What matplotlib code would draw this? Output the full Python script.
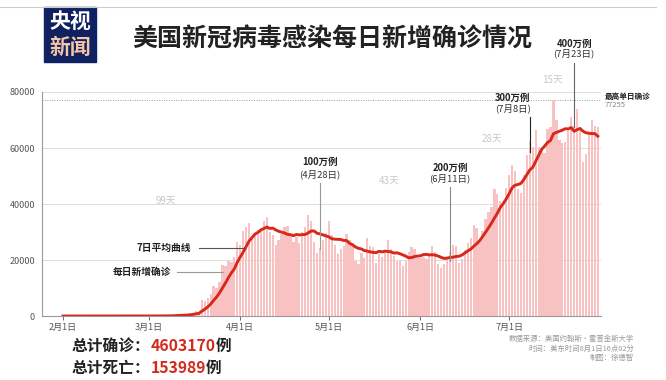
import numpy as np
import pandas as pd
import matplotlib.pyplot as plt
from matplotlib.patches import Rectangle

plt.rcParams['font.family'] = ['Noto Sans CJK SC', 'DejaVu Sans']

# daily new confirmed cases, Feb 1 .. Jul 31 2020
feb = [1, 0, 3, 0, 1, 0, 0, 0, 0, 1, 1, 0, 1, 0, 0, 0, 0, 0, 0, 0, 2, 0, 0, 0, 0, 1, 0, 2, 8]
mar = [8, 23, 20, 31, 68, 45, 140, 116, 65, 376, 322, 382, 516, 548, 772, 1133, 1789, 1362,
       5894, 5423, 6389, 7787, 10571, 9893, 12042, 18058, 17821, 19821, 19408, 20922, 26341]
apr = [25200, 30390, 31824, 33267, 28219, 29595, 30564, 31291, 33901, 35527, 29861, 28917,
       25306, 27051, 29164, 31667, 32165, 29057, 26512, 28123, 25985, 29973, 31900, 36200,
       33900, 26500, 22400, 24400, 27300, 29500]
may = [34000, 29000, 25500, 22000, 24000, 24900, 29200, 27000, 25600, 19800, 18700, 22500,
       20800, 27800, 25000, 24500, 19000, 22200, 21000, 22700, 27000, 24000, 21500, 19600,
       20000, 18000, 19600, 22800, 24600, 24000, 20800]
jun = [20700, 21000, 20200, 21500, 25000, 23000, 18500, 17300, 18500, 21000, 23000, 25500,
       25000, 19000, 20300, 23700, 26000, 27700, 32400, 31500, 26500, 30500, 34500, 37300,
       39000, 45300, 43500, 41000, 40500, 45800]
jul = [50500, 53900, 51800, 45200, 44000, 50300, 57500, 62500, 60500, 66600, 60200, 59000,
       58300, 66700, 67500, 77255, 70000, 63000, 61800, 62000, 66000, 71000, 68000, 74000,
       66000, 55000, 58000, 65000, 70000, 68000, 67500]
daily = np.array(feb + mar + apr + may + jun + jul, dtype=float)
avg7 = pd.Series(daily).rolling(7, min_periods=1).mean()

tick_days = [0, 29, 60, 90, 121, 151]
tick_labels = ['2月1日', '3月1日', '4月1日', '5月1日', '6月1日', '7月1日']

# milestones: day index, label
milestones = [(87, '100万例', '(4月28日)'), (131, '200万例', '(6月11日)'),
              (158, '300万例', '(7月8日)'), (173, '400万例', '(7月23日)')]
gaps = ['99天', '43天', '28天', '15天']
max_daily = 77255
total_cases = '4603170'
total_deaths = '153989'

fig = plt.figure(figsize=(6.66, 3.8), dpi=100)
ax = fig.add_axes([0.063, 0.1684, 0.839, 0.5895])

x = np.arange(len(daily))
ax.bar(x, daily, width=0.78, color='#f8c2c2', zorder=2)
ax.plot(x, avg7, color='#d7291b', linewidth=2.1, zorder=3)

ax.set_xlim(-7.1, 182)
ax.set_ylim(0, 80000)
ax.set_yticks([0, 20000, 40000, 60000, 80000])
ax.set_xticks(tick_days)
ax.set_xticklabels(tick_labels)
ax.tick_params(axis='x', labelsize=6.5, colors='#555555', length=3, width=0.6, pad=2)
ax.tick_params(axis='y', labelsize=6.5, colors='#555555', length=0, pad=5)
ax.grid(axis='y', color='#dddddd', linewidth=0.7, zorder=0)
for s in ['top', 'right']:
    ax.spines[s].set_visible(False)
for s in ['left', 'bottom']:
    ax.spines[s].set_color('#999999')
    ax.spines[s].set_linewidth(0.8)

# highest single day
ax.axhline(max_daily, color='#999999', linestyle=(0, (1, 1.5)), linewidth=0.7, zorder=1)
ax.text(183.5, 78400, '最高单日确诊', fontsize=5.5, fontweight='bold', color='#222222',
        va='center', ha='left', clip_on=False)
ax.text(183.5, 75300, '77255', fontsize=5.5, color='#888888', va='center', ha='left', clip_on=False)

# milestone annotations
lab_y = {87: (55000, 50700, 47400, 24000), 131: (52900, 49300, 45900, 19500),
         158: (77900, 74300, 70900, 58500), 173: (97300, 93700, 90300, 67500)}
lab_x = {87: 87, 131: 131, 158: 152.3, 173: 173}
line_col = {87: '#999999', 131: '#888888', 158: '#222222', 173: '#666666'}
for d, l1, l2 in milestones:
    y1, y2, top, bot = lab_y[d]
    ax.text(lab_x[d], y1, l1, fontsize=6.8, fontweight='bold', color='#222222',
            ha='center', va='center', clip_on=False)
    ax.text(lab_x[d], y2, l2, fontsize=6.8, color='#333333',
            ha='center', va='center', clip_on=False)
    ax.plot([d, d], [top, bot], color=line_col[d], linewidth=0.8, zorder=4, clip_on=False)

gap_pos = [(34.8, 41400), (110.5, 48200), (145.3, 63200), (165.5, 84500)]
for g, (gx, gy) in zip(gaps, gap_pos):
    ax.text(gx, gy, g, fontsize=7, color='#c8c8c8', ha='center', va='center', clip_on=False)

# legend callouts
ax.text(43.5, 24300, '7日平均曲线', fontsize=7, fontweight='bold', color='#222222',
        ha='right', va='center')
ax.plot([46, 61.5], [24300, 24300], color='#555555', linewidth=0.8, zorder=4)
ax.text(36.5, 15700, '每日新增确诊', fontsize=7, fontweight='bold', color='#222222',
        ha='right', va='center')
ax.plot([38.5, 54], [15700, 15700], color='#999999', linewidth=0.8, zorder=4)

# header
fig.add_artist(plt.Line2D([0, 0.985], [0.981, 0.981], color='#cccccc', linewidth=0.8))
fig.add_artist(Rectangle((0.066, 0.837), 0.078, 0.144, color='#0f2160', transform=fig.transFigure))
fig.text(0.105, 0.943, '央视', fontsize=15, fontweight='bold', color='white', ha='center', va='center')
fig.text(0.105, 0.874, '新闻', fontsize=15, fontweight='bold', color='#f5c6a5', ha='center', va='center')
fig.text(0.499, 0.895, '美国新冠病毒感染每日新增确诊情况', fontsize=18, fontweight='bold',
         color='#222222', ha='center', va='center')

# totals with red numbers
renderer = fig.canvas.get_renderer()


def seg_text(x0, y0, parts):
    xx = x0
    for s, c in parts:
        t = fig.text(xx, y0, s, fontsize=11.3, fontweight='bold', color=c, ha='left', va='center')
        bb = t.get_window_extent(renderer=renderer)
        xx += bb.width / fig.bbox.width


seg_text(0.108, 0.089, [('总计确诊：', '#222222'), (total_cases, '#d42a1c'), ('例', '#222222')])
seg_text(0.108, 0.032, [('总计死亡：', '#222222'), (total_deaths, '#d42a1c'), ('例', '#222222')])

fig.text(0.952, 0.083, '数据来源：美国约翰斯·霍普金斯大学\n时间：美东时间8月1日16点02分\n制图：徐德智',
         fontsize=5.3, color='#999999', ha='right', va='center', linespacing=1.3)

fig.savefig('out.png', dpi=100)
